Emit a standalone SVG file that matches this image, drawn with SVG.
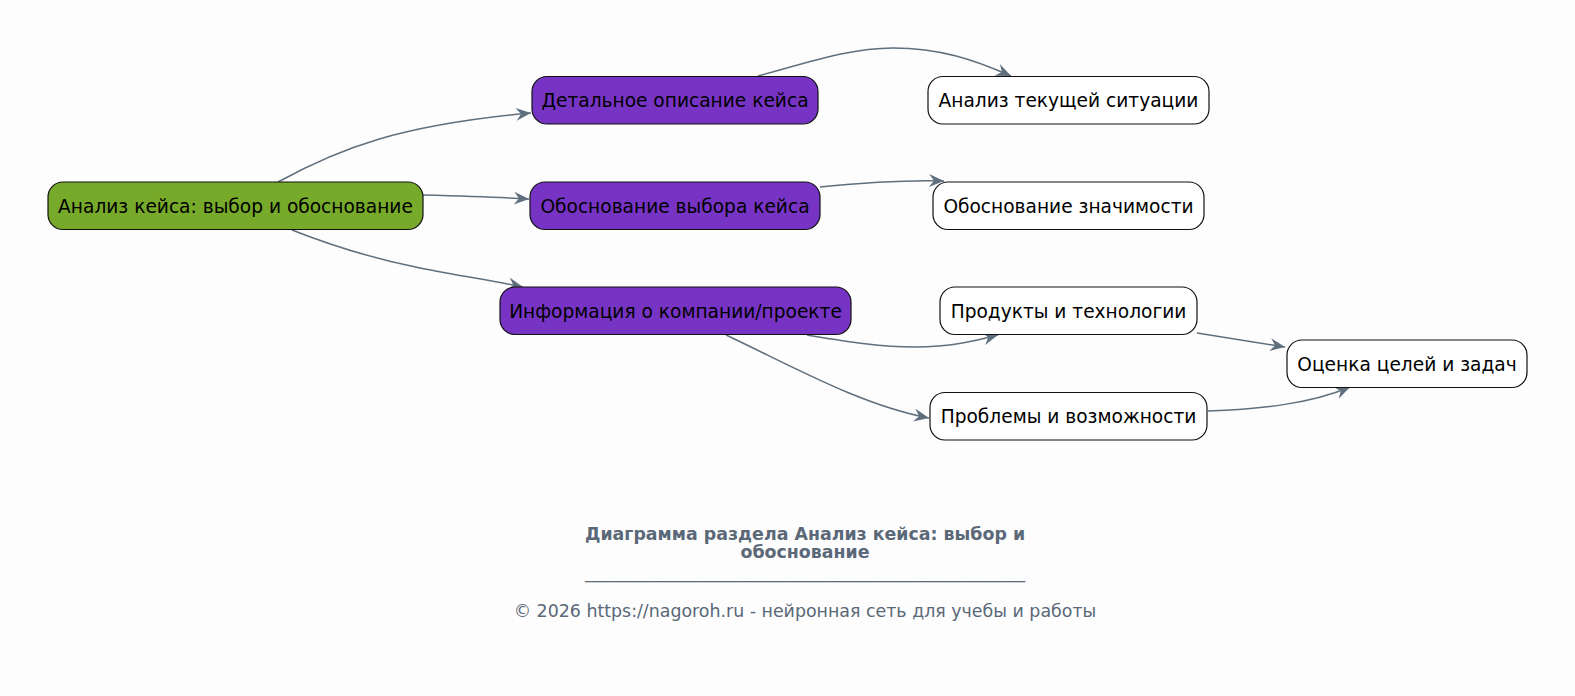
<svg xmlns="http://www.w3.org/2000/svg" width="1575" height="696" viewBox="0 0 1575 696">
<defs>
<style>
.bg{fill:#fdfdfd}
.n rect{stroke:#111;stroke-width:1.2}
.root rect{fill:#77aa2a}
.mid rect{fill:#7734c4}
.leaf rect{fill:#ffffff}
.n text{font-family:"DejaVu Sans",sans-serif;font-size:18.6px;fill:#000;text-anchor:middle}
.e path{fill:none;stroke:#5f6f7e;stroke-width:1.5;marker-end:url(#arr)}
.t{font-family:"DejaVu Sans",sans-serif;fill:#5a6878;text-anchor:middle;font-size:17.4px}
</style>
<marker id="arr" markerUnits="userSpaceOnUse" markerWidth="18" markerHeight="16" viewBox="-16 -8 18 16" refX="0" refY="0" orient="auto">
<path d="M-15,-6.5 L0,0 L-15,6.5 L-10,0 z" fill="#5f6f7e"/>
</marker>
</defs>
<rect class="bg" x="0" y="0" width="1575" height="696"/>
<g id="edges" class="e">
<path d="M278,182 C340,148 400,125 531,113"/>
<path d="M423,195 C460,196 495,197 529,199"/>
<path d="M292,230 C330,245 370,258 420,268 C460,276 495,281 523,287"/>
<path d="M758,76 C810,62 850,48 893,48 C940,48 975,60 1011,76"/>
<path d="M820,187 C870,182 910,180 944,181"/>
<path d="M807,335 C850,342 880,347 915,347 C950,347 975,341 998,335"/>
<path d="M726,335 C790,365 860,405 929,418"/>
<path d="M1197,333 L1285,347"/>
<path d="M1208,411 C1260,409 1310,404 1350,387"/>
</g>
<g id="n0" class="n root"><rect x="48" y="182" width="375" height="47.5" rx="15"/><text x="235.5" y="212.5">Анализ кейса: выбор и обоснование</text></g>
<g id="n1" class="n mid"><rect x="532" y="76.5" width="286" height="47.5" rx="15"/><text x="675" y="107">Детальное описание кейса</text></g>
<g id="n2" class="n mid"><rect x="530" y="182" width="290" height="47.5" rx="15"/><text x="675" y="212.5">Обоснование выбора кейса</text></g>
<g id="n3" class="n mid"><rect x="500" y="287" width="351" height="47.5" rx="15"/><text x="675.5" y="317.5">Информация о компании/проекте</text></g>
<g id="n4" class="n leaf"><rect x="928" y="76.5" width="281" height="47.5" rx="15"/><text x="1068.5" y="107">Анализ текущей ситуации</text></g>
<g id="n5" class="n leaf"><rect x="933" y="182" width="271" height="47.5" rx="15"/><text x="1068.5" y="212.5">Обоснование значимости</text></g>
<g id="n6" class="n leaf"><rect x="940" y="287" width="257" height="47.5" rx="15"/><text x="1068.5" y="317.5">Продукты и технологии</text></g>
<g id="n7" class="n leaf"><rect x="930" y="392.5" width="277" height="47.5" rx="15"/><text x="1068.5" y="423">Проблемы и возможности</text></g>
<g id="n8" class="n leaf"><rect x="1287" y="340" width="240" height="47.5" rx="15"/><text x="1407" y="370.5">Оценка целей и задач</text></g>
<g id="caption">
<text class="t" x="805" y="540" font-weight="bold">Диаграмма раздела Анализ кейса: выбор и</text>
<text class="t" x="805" y="558" font-weight="bold">обоснование</text>
<text class="t" x="805" y="578" textLength="440" lengthAdjust="spacingAndGlyphs">__________________________________________________</text>
<text class="t" x="805" y="617">© 2026 https://nagoroh.ru - нейронная сеть для учебы и работы</text>
</g>
</svg>
